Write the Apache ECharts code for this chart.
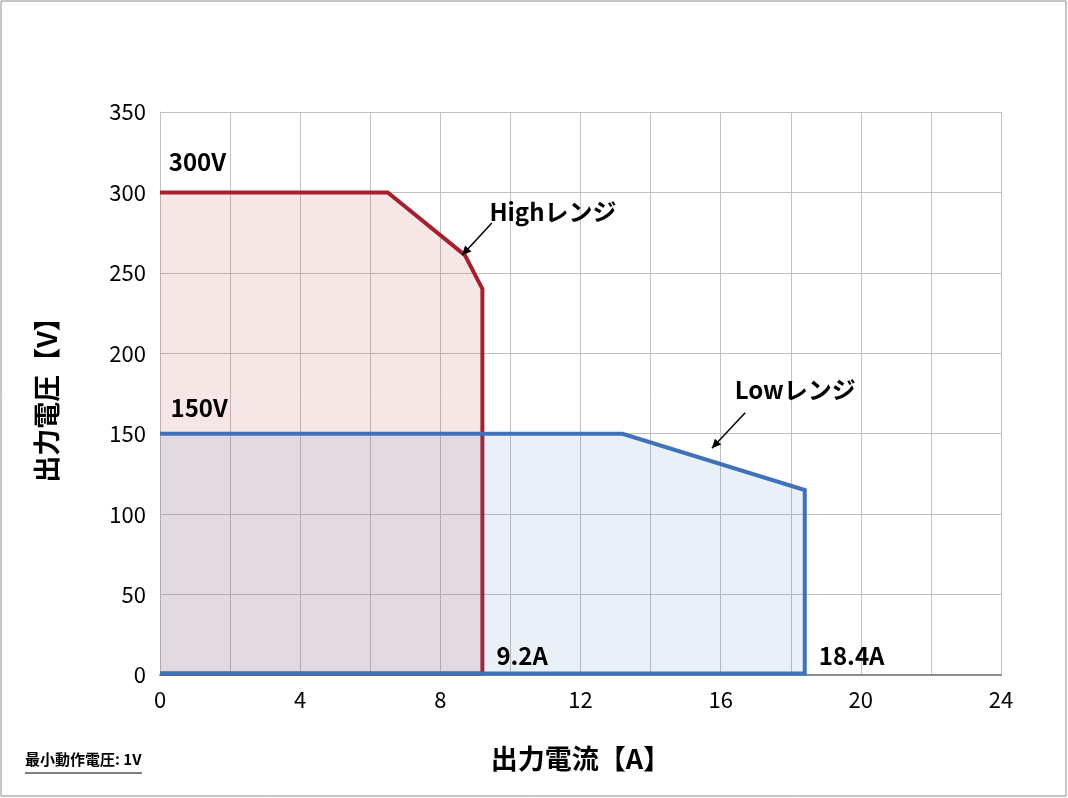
<!DOCTYPE html>
<html><head><meta charset="utf-8">
<script src="https://cdn.jsdelivr.net/npm/echarts@6/dist/echarts.min.js"></script>
<style>html,body{margin:0;padding:0;background:#fff}#c{width:1068px;height:798px}</style>
</head><body><div id="c"></div>
<script>
const highRange = [[0,1],[0,300],[6.5,300],[8.7,261],[9.2,240],[9.2,1]];
const lowRange = [[0,1],[0,150],[13.2,150],[18.4,115],[18.4,1]];
const labels = [[0.25,319,'300V'],[0.3,166,'150V'],[9.6,12,'9.2A'],[18.8,12,'18.4A'],[9.4,288,'Highレンジ'],[16.4,177,'Lowレンジ']];
const arrows = [[9.47,281,8.62,261],[16.7,163,15.75,141]];
const xTickStep = 4;

const F = '"Noto Sans CJK JP", "Noto Sans", sans-serif';
function polySeries(data, stroke, fill, z){
  return {type:'custom', z:z, data:[0], silent:true,
    renderItem:function(p, api){
      const pts = data.map(d=>api.coord(d));
      const open = pts.slice(1).concat([pts[0]]);
      return {type:'group', children:[
        {type:'polygon', shape:{points:pts}, style:{fill:fill, stroke:null}},
        {type:'polyline', shape:{points:open}, style:{fill:null, stroke:stroke, lineWidth:4, lineJoin:'miter'}}
      ]};
    }};
}
const chart = echarts.init(document.getElementById('c'));
chart.setOption({
  animation:false,
  grid:{left:160, right:67, top:112, bottom:123},
  xAxis:{type:'value', min:0, max:24, interval:2,
    axisLine:{lineStyle:{color:'#8c8c8c', width:2}}, axisTick:{show:false},
    splitLine:{lineStyle:{color:'#c0c0c0'}},
    axisLabel:{fontFamily:F, fontSize:22, color:'#000', margin:14,
      formatter:v=> v%xTickStep===0 ? String(v) : ''},
    name:'出力電流【A】', nameLocation:'middle', nameGap:70,
    nameTextStyle:{fontFamily:F, fontSize:27, fontWeight:'bold', color:'#000'}},
  yAxis:{type:'value', min:0, max:350, interval:50,
    axisLine:{show:true, lineStyle:{color:'#c0c0c0'}}, axisTick:{show:false},
    splitLine:{lineStyle:{color:'#c0c0c0'}},
    axisLabel:{fontFamily:F, fontSize:22, color:'#000', margin:14},
    name:'出力電圧【V】', nameLocation:'middle', nameGap:100, nameRotate:90,
    nameTextStyle:{fontFamily:F, fontSize:27, fontWeight:'bold', color:'#000'}},
  graphic:[
    {type:'rect', shape:{x:1,y:1,width:1065,height:795}, style:{fill:'none', stroke:'#8c8c8c', lineWidth:1}},
    {type:'text', left:25, top:752, style:{text:'最小動作電圧: 1V', font:'bold 15px '+F, fill:'#000'}},
    {type:'line', shape:{x1:25,y1:773,x2:142,y2:773}, style:{stroke:'#000', lineWidth:1}}
  ],
  series:[
    polySeries(highRange, '#a5202f', 'rgba(192,80,77,0.14)', 3),
    polySeries(lowRange, '#3f72b8', 'rgba(79,129,189,0.12)', 4),
    {type:'custom', z:6, data:arrows, silent:true,
      renderItem:function(p, api){
        const a = api.coord([api.value(0),api.value(1)]), b = api.coord([api.value(2),api.value(3)]);
        const ang = Math.atan2(b[1]-a[1], b[0]-a[0]), L=10, w=0.45;
        return {type:'group', children:[
          {type:'line', shape:{x1:a[0],y1:a[1],x2:b[0],y2:b[1]}, style:{stroke:'#000', lineWidth:1.5}},
          {type:'polygon', shape:{points:[b,[b[0]-L*Math.cos(ang-w),b[1]-L*Math.sin(ang-w)],[b[0]-L*Math.cos(ang+w),b[1]-L*Math.sin(ang+w)]]}, style:{fill:'#000'}}
        ]};
      }},
    {type:'custom', z:7, data:labels, silent:true,
      renderItem:function(p, api){
        const c = api.coord([api.value(0),api.value(1)]);
        return {type:'text', x:c[0], y:c[1], style:{text:labels[p.dataIndex][2], font:'bold 24px '+F, fill:'#000', textVerticalAlign:'middle'}};
      }}
  ]
});
</script></body></html>
